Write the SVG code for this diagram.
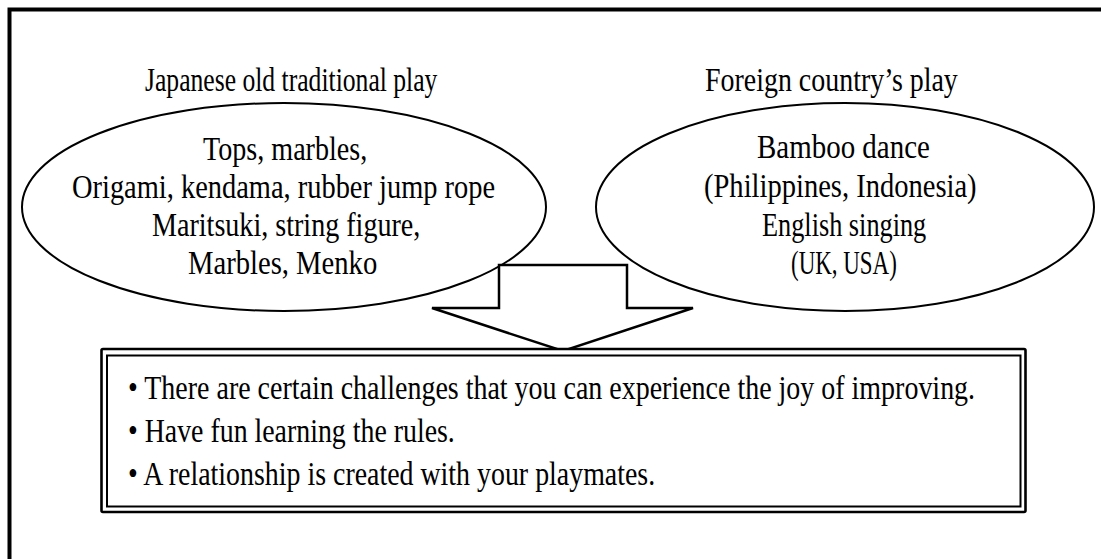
<svg xmlns="http://www.w3.org/2000/svg" width="1101" height="559" viewBox="0 0 1101 559">
<style>
text{font-family:"Liberation Serif","Times New Roman",serif;font-size:33px;fill:#000}
.shape{fill:#fff;stroke:#000}
</style>
<rect x="0" y="0" width="1101" height="559" fill="#fff"/>
<path d="M9.5,559 V9.5 H1101" fill="none" stroke="#000" stroke-width="4"/>
<g id="left-ellipse">
<ellipse class="shape" cx="284" cy="207" rx="262" ry="104" stroke-width="2"/>
</g>
<g id="right-ellipse">
<ellipse class="shape" cx="845" cy="207" rx="249" ry="104" stroke-width="2"/>
</g>
<g id="connectors">
<polygon class="shape" stroke-width="2.5" stroke-linejoin="miter" points="499,265 627,265 627,308 693,308 563,351 432,308 499,308"/>
</g>
<g id="summary-box">
<rect x="101.5" y="349" width="924" height="163" rx="1.5" fill="#fff" stroke="#000" stroke-width="2.6"/>
<rect x="107" y="355.5" width="913.5" height="151" fill="none" stroke="#000" stroke-width="2"/>
<text transform="matrix(0.86,0,0,1,128,399)" textLength="985" lengthAdjust="spacingAndGlyphs">• There are certain challenges that you can experience the joy of improving.</text>
<text transform="matrix(0.86,0,0,1,128,442)" textLength="380" lengthAdjust="spacingAndGlyphs">• Have fun learning the rules.</text>
<text transform="matrix(0.86,0,0,1,128,485)" textLength="613" lengthAdjust="spacingAndGlyphs">• A relationship is created with your playmates.</text>
</g>
<g id="left-labels">
<text transform="matrix(0.86,0,0,1,145,91)" textLength="340" lengthAdjust="spacingAndGlyphs">Japanese old traditional play</text>
<text transform="matrix(0.86,0,0,1,203,160)" textLength="191" lengthAdjust="spacingAndGlyphs">Tops, marbles,</text>
<text transform="matrix(0.86,0,0,1,72,198)" textLength="492" lengthAdjust="spacingAndGlyphs">Origami, kendama, rubber jump rope</text>
<text transform="matrix(0.86,0,0,1,152,236)" textLength="312" lengthAdjust="spacingAndGlyphs">Maritsuki, string figure,</text>
<text transform="matrix(0.86,0,0,1,188,274)" textLength="220" lengthAdjust="spacingAndGlyphs">Marbles, Menko</text>
</g>
<g id="right-labels">
<text transform="matrix(0.86,0,0,1,705,91)" textLength="294" lengthAdjust="spacingAndGlyphs">Foreign country’s play</text>
<text transform="matrix(0.86,0,0,1,757,158)" textLength="201" lengthAdjust="spacingAndGlyphs">Bamboo dance</text>
<text transform="matrix(0.86,0,0,1,704,197)" textLength="317" lengthAdjust="spacingAndGlyphs">(Philippines, Indonesia)</text>
<text transform="matrix(0.86,0,0,1,762,236)" textLength="191" lengthAdjust="spacingAndGlyphs">English singing</text>
<text transform="matrix(0.86,0,0,1,791,274)" textLength="123" lengthAdjust="spacingAndGlyphs">(UK, USA)</text>
</g>
</svg>
